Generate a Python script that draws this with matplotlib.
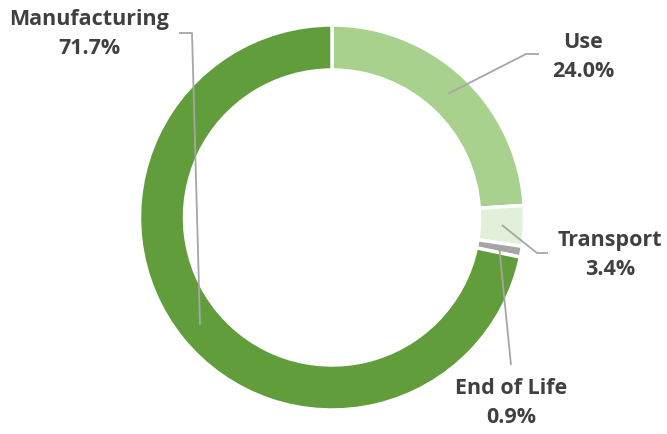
import numpy as np
import matplotlib.pyplot as plt

# datos del gráfico
categorias = ['Use', 'Transport', 'End of Life', 'Manufacturing']
valores = [24.0, 3.4, 0.9, 71.7]
colores = ['#A9D18E', '#E2F0D9', '#A5A5A5', '#619D3B']

W, H = 667, 435
cx, cy = 332, H - 218.5  # centro del anillo (en píxeles, y hacia arriba)
R = 192.5
ancho = 45

# posiciones de las etiquetas y codos de las líneas guía (píxeles, y hacia abajo)
etiquetas_pos = {'Use': (583, 57), 'Transport': (610, 255),
                 'End of Life': (511, 403), 'Manufacturing': (89, 34)}
codos = {'Use': [(526, 55), (539, 55)], 'Transport': [(537, 254), (548, 254)],
         'End of Life': [(511, 366)], 'Manufacturing': [(192, 34), (179, 34)]}

fig = plt.figure(figsize=(W / 100, H / 100), dpi=100)
ax = fig.add_axes([0, 0, 1, 1])

wedges, _ = ax.pie(valores, colors=colores, startangle=90, counterclock=False,
                   center=(cx, cy), radius=R, frame=True,
                   wedgeprops=dict(width=ancho, edgecolor='white', linewidth=2.5))
ax.set_xlim(0, W)
ax.set_ylim(0, H)
ax.set_aspect('equal')
ax.axis('off')

for w, cat, val in zip(wedges, categorias, valores):
    ang = np.deg2rad((w.theta1 + w.theta2) / 2)
    r = R - ancho / 2
    x0, y0 = cx + r * np.cos(ang), cy + r * np.sin(ang)
    xs = [x0] + [p[0] for p in codos[cat]]
    ys = [y0] + [H - p[1] for p in codos[cat]]
    ax.plot(xs, ys, color='#A6A6A6', lw=1.3, solid_capstyle='butt', zorder=5)
    tx, ty = etiquetas_pos[cat]
    ax.text(tx, H - ty, f'{cat}\n{val:.1f}%', ha='center', va='center',
            fontsize=15.5, fontweight='bold', family=['Open Sans', 'DejaVu Sans'],
            color='#404040', linespacing=1.45)

fig.savefig('out.png', dpi=100, facecolor='white')
